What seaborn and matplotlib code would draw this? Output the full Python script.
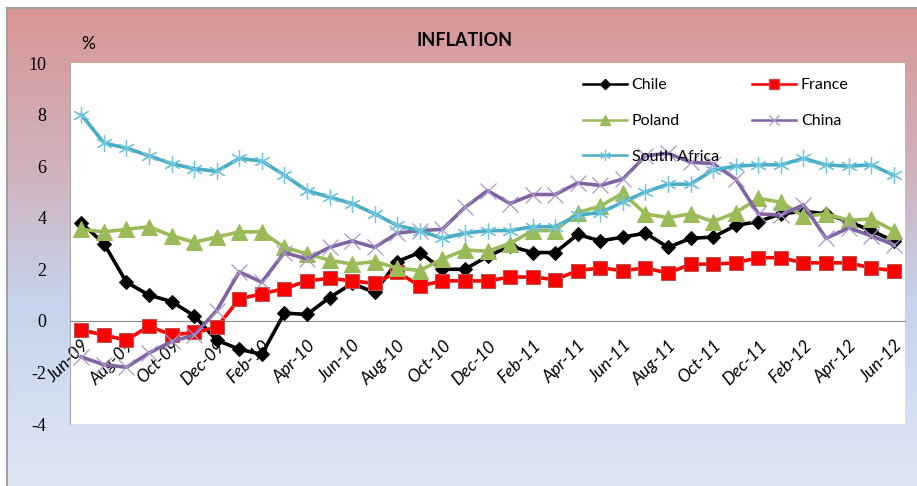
import seaborn as sns
import matplotlib.pyplot as plt
import numpy as np
from matplotlib.colors import LinearSegmentedColormap
from matplotlib.lines import Line2D

# Data (monthly inflation, %)
months = ['Jun-09', 'Jul-09', 'Aug-09', 'Sep-09', 'Oct-09', 'Nov-09', 'Dec-09',
          'Jan-10', 'Feb-10', 'Mar-10', 'Apr-10', 'May-10', 'Jun-10', 'Jul-10',
          'Aug-10', 'Sep-10', 'Oct-10', 'Nov-10', 'Dec-10', 'Jan-11', 'Feb-11',
          'Mar-11', 'Apr-11', 'May-11', 'Jun-11', 'Jul-11', 'Aug-11', 'Sep-11',
          'Oct-11', 'Nov-11', 'Dec-11', 'Jan-12', 'Feb-12', 'Mar-12', 'Apr-12',
          'May-12', 'Jun-12']

chile = [3.8, 3.0, 1.5, 1.0, 0.75, 0.2, -0.75, -1.1, -1.3, 0.3, 0.25, 0.9, 1.45,
         1.1, 2.3, 2.65, 2.0, 2.0, 2.5, 2.9, 2.65, 2.65, 3.35, 3.1, 3.25, 3.4,
         2.85, 3.2, 3.25, 3.7, 3.85, 4.15, 4.25, 4.15, 3.85, 3.5, 3.1]
france = [-0.35, -0.55, -0.75, -0.2, -0.55, -0.45, -0.25, 0.85, 1.05, 1.25, 1.55,
          1.65, 1.55, 1.45, 1.9, 1.35, 1.55, 1.55, 1.55, 1.7, 1.7, 1.6, 1.95,
          2.05, 1.95, 2.05, 1.85, 2.2, 2.2, 2.25, 2.45, 2.45, 2.25, 2.25, 2.25,
          2.05, 1.95]
poland = [3.55, 3.45, 3.55, 3.65, 3.3, 3.05, 3.25, 3.45, 3.45, 2.85, 2.6, 2.35,
          2.2, 2.3, 2.05, 1.95, 2.4, 2.75, 2.7, 3.0, 3.5, 3.5, 4.2, 4.45, 4.95,
          4.15, 4.0, 4.15, 3.85, 4.2, 4.75, 4.6, 4.05, 4.15, 3.9, 3.95, 3.5]
china = [-1.4, -1.7, -1.8, -1.25, -0.8, -0.55, 0.4, 1.9, 1.5, 2.65, 2.4, 2.85,
         3.1, 2.85, 3.4, 3.5, 3.55, 4.4, 5.05, 4.55, 4.9, 4.9, 5.35, 5.25, 5.5,
         6.4, 6.5, 6.15, 6.1, 5.5, 4.15, 4.1, 4.5, 3.2, 3.6, 3.3, 2.95]
south_africa = [8.0, 6.9, 6.7, 6.4, 6.1, 5.9, 5.8, 6.3, 6.2, 5.65, 5.05, 4.8,
                4.55, 4.15, 3.7, 3.5, 3.2, 3.4, 3.5, 3.5, 3.65, 3.65, 4.1, 4.2,
                4.6, 5.0, 5.3, 5.3, 5.85, 6.0, 6.05, 6.05, 6.3, 6.05, 6.0, 6.05,
                5.65]

x = np.arange(len(months))

# Series styles
series = [
    ('Chile', chile, dict(color='black', marker='D', markersize=7.5,
                          markerfacecolor='black', markeredgecolor='black')),
    ('France', france, dict(color='#ff0000', marker='s', markersize=10,
                            markerfacecolor='#ff0000', markeredgecolor='#c0504d')),
    ('Poland', poland, dict(color='#9bbb59', marker='^', markersize=11,
                            markerfacecolor='#9bbb59', markeredgecolor='#9bbb59')),
    ('China', china, dict(color='#8064a2', marker='x', markersize=11,
                          markeredgecolor='#a996c8', markeredgewidth=0.9)),
    ('South Africa', south_africa, dict(color='#4bacc6', marker=(6, 2, 0), markersize=12,
                                        markeredgecolor='#6fc6dd', markeredgewidth=0.9)),
]

fig = plt.figure(figsize=(9.17, 4.86), dpi=100)
fig.patch.set_facecolor('white')

# Gradient background of the chart area
bg = fig.add_axes([7 / 917, 0, 1 - 7 / 917, 1 - 8 / 486])
grad_cmap = LinearSegmentedColormap.from_list(
    'bg', [(0.0, '#d99694'), (0.35, '#cfb3bf'), (0.62, '#c5d4ec'), (1.0, '#dee6f3')])
bg.imshow(np.linspace(0, 1, 256).reshape(-1, 1), cmap=grad_cmap, aspect='auto',
          extent=[0, 1, 0, 1])
bg.set_xticks([])
bg.set_yticks([])
for side, spine in bg.spines.items():
    spine.set_visible(side in ('top', 'left'))
    spine.set_color('#a0a0a0')
    spine.set_linewidth(1.5)

# Plot area
ax = fig.add_axes([70 / 917, 1 - 424 / 486, 835 / 917, 361 / 486])
ax.set_facecolor('white')

# Axis crosses at zero (set before styling ticks, it resets them)
ax.spines['bottom'].set_position(('data', 0))
ax.spines['bottom'].set_color('#868686')
ax.spines['left'].set_color('#a6a6a6')
ax.spines['top'].set_visible(False)
ax.spines['right'].set_visible(False)

for name, vals, style in series:
    sns.lineplot(x=x, y=vals, ax=ax, linewidth=2.6, label=name, legend=False,
                 zorder=3, **style)

ax.set_xlim(-0.5, len(months) - 0.5)
ax.set_ylim(-4, 10)
ax.set_yticks(np.arange(-4, 11, 2))
ax.set_yticklabels([str(v) for v in range(-4, 11, 2)],
                   fontdict={'family': 'Liberation Serif', 'size': 13})
ax.set_xticks(x[::2])
ax.set_xticklabels(months[::2], rotation=45, ha='right', rotation_mode='anchor',
                   fontdict={'family': 'Lato', 'style': 'italic', 'size': 12.5})
ax.tick_params(axis='both', length=0)
ax.tick_params(axis='x', pad=12)
ax.tick_params(axis='y', pad=17)
ax.set_xlabel('')
ax.set_ylabel('')

# Title and unit
fig.text(465 / 917, 1 - 40 / 486, 'INFLATION', ha='center', va='center',
         fontsize=13, fontweight='bold', family='Lato')
fig.text(88 / 917, 1 - 44 / 486, '%', ha='center', va='center', fontsize=12.5,
         family='Lato')

# Legend: rows Chile/France, Poland/China, South Africa
order = [0, 2, 4, 1, 3]
handles = []
for i in order:
    name, vals, style = series[i]
    st = dict(style)
    st['markersize'] = st['markersize'] * 0.65
    handles.append(Line2D([], [], linewidth=1.8, label=name, **st))
leg = ax.legend(handles=handles, ncol=2, frameon=False, loc='upper left',
                bbox_to_anchor=(0.596, 1.0), labelspacing=1.35, handlelength=2.75,
                columnspacing=2.1, handletextpad=0.3, borderaxespad=0.55,
                prop={'family': 'Lato', 'size': 11.5})

fig.savefig('out.png', dpi=100)
